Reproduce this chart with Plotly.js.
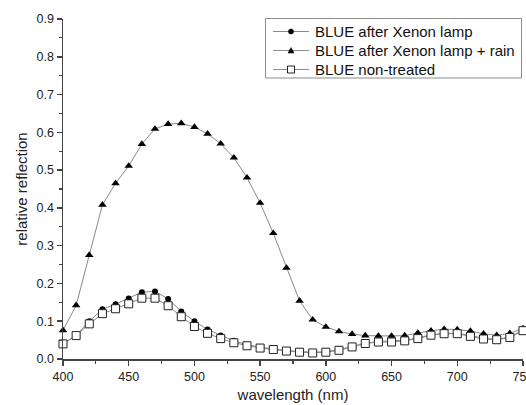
<!DOCTYPE html>
<html>
<head>
<meta charset="utf-8">
<script src="https://cdn.plot.ly/plotly-3.0.1.min.js"></script>
<style>html,body{margin:0;padding:0;background:#fff;}#chart{width:526px;height:405px;}</style>
</head>
<body>
<div id="chart"></div>
<script>
var wavelength = [400,410,420,430,440,450,460,470,480,490,500,510,520,530,540,550,560,570,580,590,600,610,620,630,640,650,660,670,680,690,700,710,720,730,740,750];
var afterXenon = [0.040,0.063,0.100,0.132,0.145,0.160,0.177,0.179,0.159,0.126,0.100,0.078,0.062,0.048,0.038,0.031,0.027,0.022,0.020,0.018,0.019,0.025,0.033,0.042,0.046,0.047,0.050,0.056,0.064,0.068,0.068,0.062,0.055,0.052,0.058,0.077];
var afterXenonRain = [0.076,0.142,0.275,0.408,0.465,0.511,0.569,0.609,0.622,0.624,0.614,0.596,0.570,0.533,0.480,0.413,0.333,0.241,0.154,0.104,0.085,0.073,0.066,0.062,0.061,0.061,0.062,0.069,0.075,0.079,0.078,0.074,0.067,0.063,0.068,0.081];
var nonTreated = [0.040,0.062,0.093,0.120,0.133,0.146,0.161,0.161,0.141,0.112,0.086,0.068,0.054,0.043,0.035,0.029,0.025,0.021,0.018,0.016,0.018,0.023,0.032,0.041,0.045,0.045,0.048,0.054,0.063,0.067,0.067,0.060,0.053,0.051,0.057,0.075];
var seriesNames = ["BLUE after Xenon lamp","BLUE after Xenon lamp + rain","BLUE non-treated"];
var xTickVals = [400,450,500,550,600,650,700,750];

var W = 526, H = 405;
var M = {l:63, r:3, t:19, b:46};
var plotW = W - M.l - M.r, plotH = H - M.t - M.b;
function px(x){ return (x - M.l) / plotW; }
function py(y){ return (H - M.b - y) / plotH; }

var lineColor = '#8a8a8a';
var lineStyle = {color:lineColor, width:1};
var traces = [
  {x:wavelength, y:afterXenon, name:seriesNames[0], mode:'lines+markers', line:lineStyle,
   marker:{symbol:'circle', size:6, color:'#000'}, cliponaxis:false},
  {x:wavelength, y:afterXenonRain, name:seriesNames[1], mode:'lines+markers', line:lineStyle,
   marker:{symbol:'triangle-up', size:7.5, color:'#000'}, cliponaxis:false},
  {x:wavelength, y:nonTreated, name:seriesNames[2], mode:'lines+markers', line:lineStyle,
   marker:{symbol:'square', size:8, color:'#fff', line:{color:'#222', width:1}}, cliponaxis:false}
];

// custom legend (box, line stubs, marker glyphs, text)
var rows = [31.5, 50.5, 69.5];
var shapes = [
  {type:'rect', xref:'paper', yref:'paper', x0:px(265.5), x1:px(521.5), y0:py(78), y1:py(18.5),
   line:{color:'#8c8c8c', width:1}, fillcolor:'#fff', layer:'above'}
];
var annotations = [];
rows.forEach(function(r, i){
  shapes.push({type:'line', xref:'paper', yref:'paper', x0:px(273), x1:px(309), y0:py(r), y1:py(r),
    line:{color:lineColor, width:1}, layer:'above'});
  var base = {xref:'paper', yref:'paper', xsizemode:'pixel', ysizemode:'pixel',
    xanchor:px(291), yanchor:py(r), layer:'above'};
  if (i === 0) {
    shapes.push(Object.assign({}, base, {type:'circle', x0:-2.6, x1:2.6, y0:-2.6, y1:2.6,
      fillcolor:'#000', line:{color:'#000', width:0.5}}));
  } else if (i === 1) {
    shapes.push(Object.assign({}, base, {type:'path', path:'M -3 -2.5 L 3 -2.5 L 0 3 Z',
      fillcolor:'#000', line:{color:'#000', width:0.5}}));
  } else {
    shapes.push(Object.assign({}, base, {type:'rect', x0:-3.5, x1:3.5, y0:-3.5, y1:3.5,
      fillcolor:'#fff', line:{color:'#222', width:1}}));
  }
  annotations.push({xref:'paper', yref:'paper', x:px(313), y:py(r), xanchor:'left', yanchor:'middle',
    text:seriesNames[i], showarrow:false, font:{size:15, color:'#111'}});
});

var axisCommon = {
  showline:true, linecolor:'#444', linewidth:1.5, showgrid:false, zeroline:false,
  ticks:'outside', ticklen:5, tickwidth:1.5, tickcolor:'#444', ticklabeloverflow:'allow',
  tickfont:{family:'Liberation Sans, Arial, sans-serif', size:12.5, color:'#222'}
};

var layout = {
  width:W, height:H,
  margin:M,
  paper_bgcolor:'#fff', plot_bgcolor:'#fff',
  font:{family:'Liberation Sans, Arial, sans-serif', color:'#222'},
  showlegend:false,
  xaxis:Object.assign({}, axisCommon, {
    range:[400,750.02], tickvals:xTickVals,
    minor:{tickvals:[425,475,525,575,625,675,725], ticks:'outside', ticklen:3, tickcolor:'#444', tickwidth:1.2},
    title:{text:'wavelength (nm)', font:{size:15, color:'#222'}, standoff:7}
  }),
  yaxis:Object.assign({}, axisCommon, {
    range:[0,0.9], dtick:0.1, tick0:0, tickformat:'.1f',
    minor:{dtick:0.05, ticks:'outside', ticklen:3, tickcolor:'#444', tickwidth:1.2},
    title:{text:'relative reflection', font:{size:15, color:'#222'}, standoff:5}
  }),
  shapes:shapes,
  annotations:annotations
};

Plotly.newPlot('chart', traces, layout, {staticPlot:true, displayModeBar:false});
</script>
</body>
</html>
